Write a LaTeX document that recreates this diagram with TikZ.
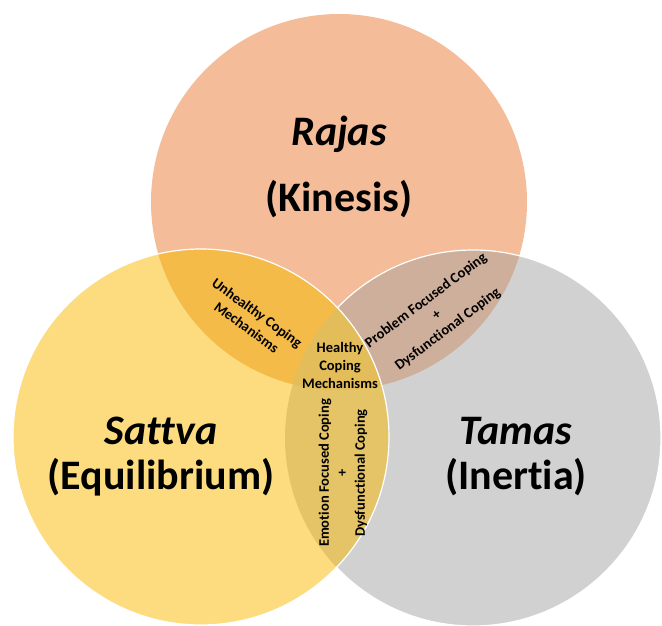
\documentclass[tikz,border=0pt]{standalone}
\usepackage{fontspec}
\setmainfont[Ligatures=NoCommon]{Carlito}
\definecolor{rajasc}{HTML}{F4BC98}
\definecolor{sattvac}{HTML}{FDDC80}
\definecolor{tamasc}{HTML}{D1D1D1}
\definecolor{rsc}{HTML}{F5BB48}
\definecolor{rtc}{HTML}{CEAF9B}
\definecolor{stc}{HTML}{E4C467}
\definecolor{centc}{HTML}{E3BD5A}
\tikzset{
  big/.style={font=\bfseries\fontsize{42}{46}\selectfont, text=black, inner sep=0pt},
  small/.style={font=\bfseries\fontsize{14.5}{18}\selectfont, align=center, text=black, inner sep=0pt},
  outline/.style={draw=white, line width=1.2pt}
}
\begin{document}
\begin{tikzpicture}[x=1pt,y=-1pt]
\useasboundingbox (0,0) rectangle (662,626);
\coordinate (R) at (339,202);
\coordinate (S) at (201,437);
\coordinate (T) at (473,438);
\def\rad{188pt}
% base circles
\fill[rajasc] (R) circle[radius=\rad];
\fill[tamasc] (T) circle[radius=\rad];
\fill[sattvac] (S) circle[radius=\rad];
% pairwise overlaps
\begin{scope}\clip (R) circle[radius=\rad]; \fill[rsc] (S) circle[radius=\rad];\end{scope}
\begin{scope}\clip (R) circle[radius=\rad]; \fill[rtc] (T) circle[radius=\rad];\end{scope}
\begin{scope}\clip (S) circle[radius=\rad]; \fill[stc] (T) circle[radius=\rad];\end{scope}
\begin{scope}\clip (R) circle[radius=\rad]; \clip (S) circle[radius=\rad]; \fill[centc] (T) circle[radius=\rad];\end{scope}
% white outlines
\begin{scope}[even odd rule]
  \clip (-10,-10) rectangle (672,636) (S) circle[radius=\rad];
  \draw[outline] (T) circle[radius=\rad];
\end{scope}
\draw[outline] (S) circle[radius=\rad];
% titles
\node[big] (rajas) at (339,134) {\itshape Rajas};
\node[big] (kinesis) at (339,199) {(Kinesis)};
\node[big] (sattva) at (161,431) {\itshape Sattva};
\node[big] (equil) at (161,477) {(Equilibrium)};
\node[big] (tamas) at (516,431) {\itshape Tamas};
\node[big] (inertia) at (516,477) {(Inertia)};
% overlap labels
\node[small, rotate=-36] (unhealthy) at (252,320) {Unhealthy Coping\\Mechanisms};
\node[small] (healthy) at (340,365) {Healthy\\Coping\\Mechanisms};
\node[small, rotate=37] (problem) at (437,315) {Problem Focused Coping\\+\\Dysfunctional Coping};
\node[small, rotate=90] (emotion) at (343,473) {Emotion Focused Coping\\+\\Dysfunctional Coping};
\end{tikzpicture}
\end{document}
